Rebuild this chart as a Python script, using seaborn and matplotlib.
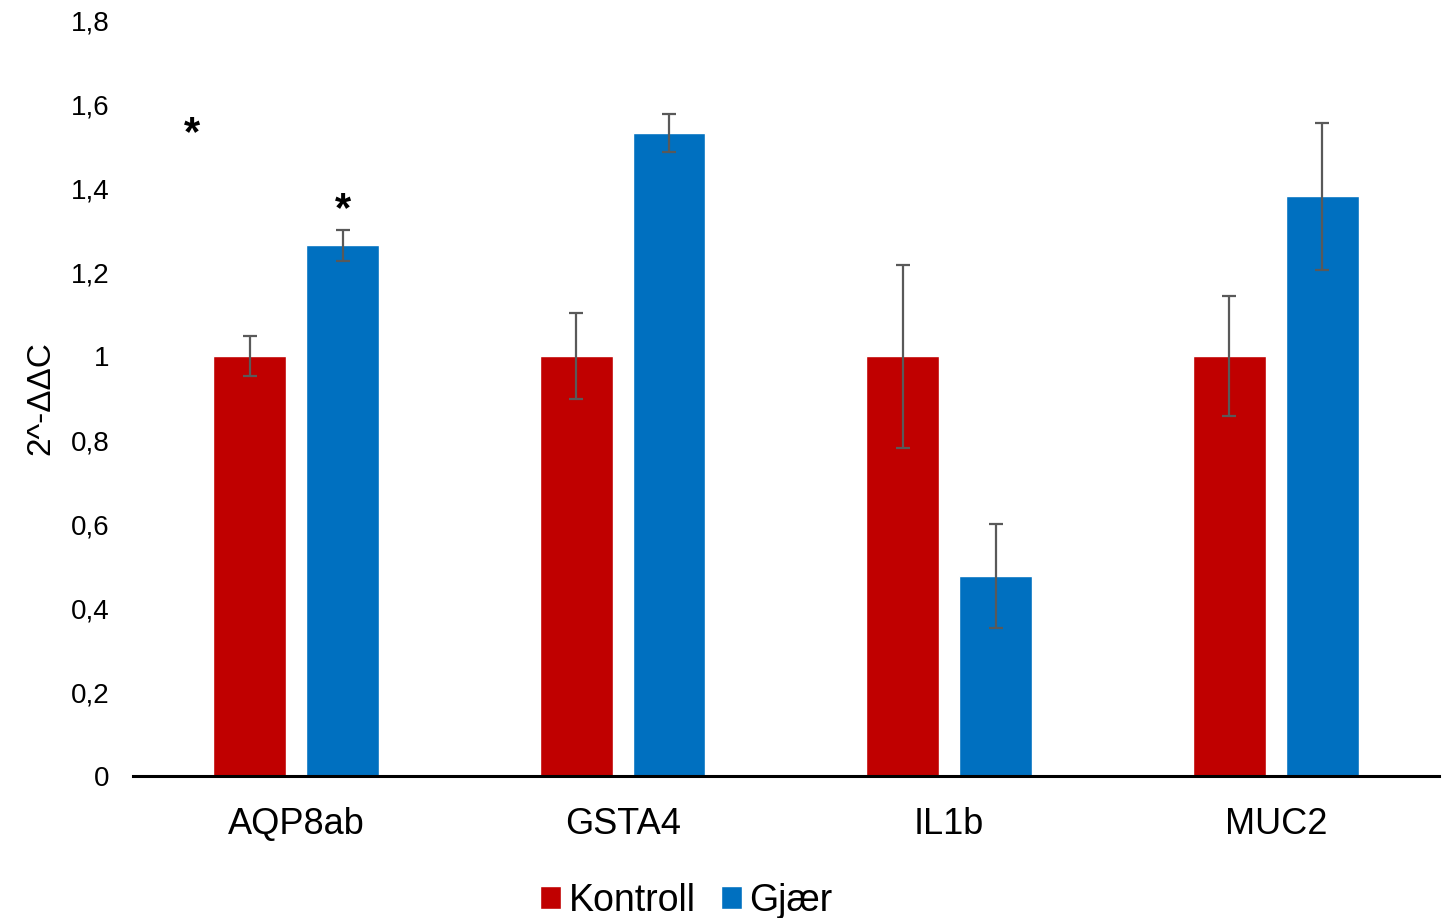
import matplotlib
matplotlib.use("Agg")
import matplotlib.pyplot as plt
import matplotlib.ticker as mticker
import seaborn as sns
import pandas as pd
import numpy as np

# data
genes = ["AQP8ab", "GSTA4", "IL1b", "MUC2"]
groups = ["Kontroll", "Gjær"]
kontroll = [1.0, 1.0, 1.0, 1.0]
gjaer = [1.264, 1.531, 0.476, 1.381]
kontroll_err = [0.047, 0.102, 0.218, 0.142]
gjaer_err = [0.037, 0.045, 0.123, 0.175]
yticks = [0, 0.2, 0.4, 0.6, 0.8, 1.0, 1.2, 1.4, 1.6, 1.8]
star_x = [-0.32, 0.142]
star_y = [1.48, 1.30]

colors = {"Kontroll": "#C00000", "Gjær": "#0070C0"}

df = pd.DataFrame({
    "gene": genes * 2,
    "group": [groups[0]] * len(genes) + [groups[1]] * len(genes),
    "value": kontroll + gjaer,
    "err": kontroll_err + gjaer_err,
})

sns.set_style("white")
plt.rcParams["font.family"] = ["Liberation Sans", "DejaVu Sans"]
plt.rcParams["text.color"] = "black"
plt.rcParams["axes.labelcolor"] = "black"
plt.rcParams["xtick.color"] = "black"
plt.rcParams["ytick.color"] = "black"

fig = plt.figure(figsize=(14.48, 9.18), dpi=100)
ax = fig.add_axes([0.0918, 0.1547, 0.902, 0.8233])

sns.barplot(data=df, x="gene", y="value", hue="group", palette=colors,
            saturation=1, width=0.568, gap=0.215, errorbar=None, ax=ax,
            legend=True)

# error bars at the bar centres
for cont, grp in zip(ax.containers, groups):
    sub = df[df["group"] == grp]
    xs = [p.get_x() + p.get_width() / 2 for p in cont.patches]
    ax.errorbar(xs, sub["value"].values, yerr=sub["err"].values, fmt="none",
                ecolor="#595959", elinewidth=1.6, capsize=4.7, capthick=1.6)

for x, y in zip(star_x, star_y):
    ax.text(x, y, "*", ha="center", va="bottom", fontsize=30,
            fontweight="bold", color="black")

ax.set_ylim(0, 1.8)
ax.set_xlim(-0.5, 3.5)
ax.set_yticks(yticks)
ax.yaxis.set_major_formatter(mticker.FuncFormatter(
    lambda v, p: ("%g" % round(v, 1)).replace(".", ",")))
ax.tick_params(axis="y", labelsize=20, length=0, pad=17)
ax.tick_params(axis="x", labelsize=26, length=0, pad=22)
ax.set_xlabel("")
ax.set_ylabel("2^-ΔΔC", fontsize=24, labelpad=10)

sns.despine(ax=ax, left=True, top=True, right=True)
ax.spines["bottom"].set_color("black")
ax.spines["bottom"].set_linewidth(2.2)

handles, labels = ax.get_legend_handles_labels()
ax.get_legend().remove()
fig.legend(handles, labels, loc="center", bbox_to_anchor=(0.474, 0.019),
           ncol=2, frameon=False, fontsize=27, handlelength=0.55,
           handleheight=0.55, handletextpad=0.2, columnspacing=0.68)

fig.savefig("out.png", dpi=100)
